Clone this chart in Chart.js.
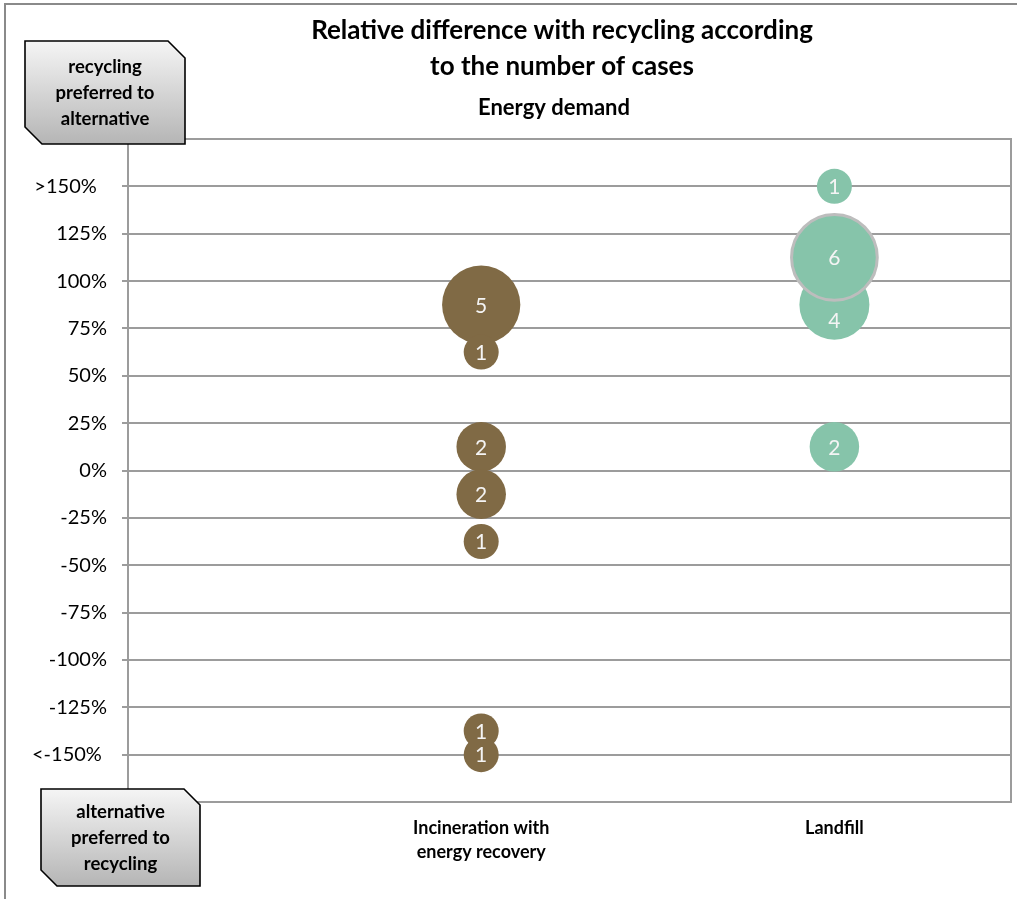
<!DOCTYPE html>
<html>
<head>
<meta charset="utf-8">
<title>Relative difference with recycling – Energy demand</title>
<script src="https://cdn.jsdelivr.net/npm/chart.js@4.4.1/dist/chart.umd.min.js"></script>
<style>
  html, body { margin: 0; padding: 0; background: #ffffff; }
  canvas { display: block; }
</style>
</head>
<body>
<canvas id="chart" width="1017" height="899"></canvas>
<script>
// ---- data -------------------------------------------------------------
const categories = ['Incineration with energy recovery', 'Landfill'];
const categoryLabelLines = [['Incineration with', 'energy recovery'], ['Landfill']];

// relative difference bins (%) and the number of cases falling in each bin
const incinerationDiff  = [87.5, 62.5, 12.5, -12.5, -37.5, -137.5, -150];
const incinerationCases = [5, 1, 2, 2, 1, 1, 1];

const landfillDiff  = [150, 87.5, 112.5, 12.5];
const landfillCases = [1, 4, 6, 2];

const yTickValues = [-150, -125, -100, -75, -50, -25, 0, 25, 50, 75, 100, 125, 150];
const yTickLabels = ['<-150% ', '-125%', '-100%', '-75%', '-50%', '-25%', '0%',
                     '25%', '50%', '75%', '100%', '125%', '>150%  '];

const titleLines = ['Relative difference with recycling according', 'to the number of cases'];
const subtitleText = 'Energy demand';
const topNote = ['recycling', 'preferred to', 'alternative'];
const bottomNote = ['alternative', 'preferred to', 'recycling'];

// ---- style ------------------------------------------------------------
const FONT = 'Lato, "Open Sans", "DejaVu Sans", sans-serif';
const BROWN = '#806a45';
const GREEN = '#86c4aa';
const GRID = '#9c9c9c';
const UNIT_RADIUS = 17.5; // radius of a one-case bubble; area grows with the count

function toPoints(diffs, cases, xPos) {
  return diffs.map((y, i) => ({ x: xPos, y: y, r: UNIT_RADIUS * Math.sqrt(cases[i]), n: cases[i] }));
}

// frame around the plot area plus outer chart border
const framePlugin = {
  id: 'frame',
  beforeDatasetsDraw(chart) {
    const { ctx, chartArea: a } = chart;
    ctx.save();
    ctx.strokeStyle = GRID;
    ctx.lineWidth = 2;
    ctx.strokeRect(a.left, a.top, a.right - a.left, a.bottom - a.top);
    ctx.restore();
  },
  beforeDraw(chart) {
    const { ctx, width, height } = chart;
    ctx.save();
    ctx.strokeStyle = '#8a8a8a';
    ctx.lineWidth = 2;
    ctx.beginPath();
    ctx.moveTo(5, height);
    ctx.lineTo(5, 4);
    ctx.lineTo(width, 4);
    ctx.stroke();
    ctx.restore();
  }
};

// case counts written inside the bubbles
const countLabelPlugin = {
  id: 'countLabels',
  afterDatasetsDraw(chart) {
    const { ctx } = chart;
    ctx.save();
    ctx.font = '21px ' + FONT;
    ctx.fillStyle = '#f4f4f4';
    ctx.textAlign = 'center';
    ctx.textBaseline = 'middle';
    const halfText = 12;
    chart.data.datasets.forEach((ds, di) => {
      const els = chart.getDatasetMeta(di).data;
      els.forEach((el, i) => {
        const r = ds.data[i].r;
        let y = el.y;
        // if a bubble drawn later overlaps this count, move it into the visible part
        for (let j = i + 1; j < els.length; j++) {
          const o = els[j], or = ds.data[j].r;
          if (Math.abs(o.x - el.x) < 1 && Math.abs(o.y - el.y) < or + halfText && or > r) {
            y = o.y < el.y ? (o.y + or + el.y + r) / 2 : (o.y - or + el.y - r) / 2;
          }
        }
        ctx.fillText(String(ds.data[i].n), el.x, y + 1);
      });
    });
    ctx.restore();
  }
};

// titles and the two orientation notes beside the value axis
function notePath(ctx, x0, y0, x1, y1, cut) {
  ctx.beginPath();
  ctx.moveTo(x0, y0);
  ctx.lineTo(x1 - cut, y0);
  ctx.lineTo(x1, y0 + cut);
  ctx.lineTo(x1, y1);
  ctx.lineTo(x0 + cut, y1);
  ctx.lineTo(x0, y1 - cut);
  ctx.closePath();
}

function drawNote(ctx, box, lines) {
  const g = ctx.createLinearGradient(0, box.y0, 0, box.y1);
  g.addColorStop(0, '#f5f5f5');
  g.addColorStop(1, '#b5b5b5');
  notePath(ctx, box.x0, box.y0, box.x1, box.y1, box.cut);
  ctx.fillStyle = g;
  ctx.fill();
  ctx.strokeStyle = '#000000';
  ctx.lineWidth = 1.6;
  ctx.stroke();
  ctx.fillStyle = '#000000';
  ctx.font = 'bold 18.5px ' + FONT;
  ctx.textAlign = 'center';
  ctx.textBaseline = 'middle';
  const cx = (box.x0 + box.x1) / 2;
  lines.forEach((t, i) => ctx.fillText(t, cx, box.firstLine + i * 26));
}

const annotationPlugin = {
  id: 'annotations',
  afterDraw(chart) {
    const { ctx } = chart;
    ctx.save();
    ctx.fillStyle = '#000000';
    ctx.textAlign = 'center';
    ctx.textBaseline = 'middle';
    ctx.font = 'bold 26px ' + FONT;
    titleLines.forEach((t, i) => ctx.fillText(t, 562, 31 + i * 36));
    ctx.font = 'bold 22px ' + FONT;
    ctx.fillText(subtitleText, 554, 108);

    drawNote(ctx, { x0: 25, y0: 41, x1: 185, y1: 144, cut: 17, firstLine: 67 }, topNote);
    drawNote(ctx, { x0: 41, y0: 789, x1: 200, y1: 886, cut: 16, firstLine: 812 }, bottomNote);
    ctx.restore();
  }
};

new Chart(document.getElementById('chart'), {
  type: 'bubble',
  data: {
    datasets: [
      {
        label: categories[0],
        data: toPoints(incinerationDiff, incinerationCases, 1),
        backgroundColor: BROWN,
        borderWidth: 0,
        hoverBorderWidth: 0
      },
      {
        label: categories[1],
        data: toPoints(landfillDiff, landfillCases, 2),
        backgroundColor: GREEN,
        borderColor: '#bdbdbd',
        // the most frequent bin is outlined
        borderWidth: (ctx) => (ctx.raw && ctx.raw.n === Math.max(...landfillCases) ? 3 : 0)
      }
    ]
  },
  options: {
    responsive: false,
    animation: false,
    events: [],
    clip: false,
    layout: { autoPadding: false, padding: { top: 139, right: 6, left: 0, bottom: 0 } },
    plugins: {
      legend: { display: false },
      title: { display: false },
      tooltip: { enabled: false }
    },
    scales: {
      x: {
        type: 'linear',
        min: 0,
        max: 2.5,
        afterBuildTicks: (scale) => { scale.ticks = categoryLabelLines.map((_, i) => ({ value: i + 1 })); },
        afterFit: (scale) => {
          scale.height = 97;
          scale.paddingLeft = 0;
          scale.paddingRight = 0;
        },
        grid: { display: false, drawTicks: false },
        border: { display: false },
        ticks: {
          autoSkip: false,
          maxRotation: 0,
          padding: 14,
          color: '#000000',
          font: { family: FONT, size: 18, weight: 'bold', lineHeight: 1.35 },
          callback: (v) => categoryLabelLines[Math.round(v) - 1] || ''
        }
      },
      y: {
        type: 'linear',
        min: -175,
        max: 175,
        afterBuildTicks: (scale) => {
          scale.ticks = [-175, ...yTickValues, 175].map((v) => ({ value: v }));
        },
        afterFit: (scale) => { scale.width = 128; },
        grid: { color: GRID, lineWidth: 2, tickLength: 6, drawTicks: true },
        border: { display: false },
        ticks: {
          autoSkip: false,
          padding: 15,
          color: '#000000',
          font: { family: FONT, size: 20 },
          callback: (v) => {
            const k = yTickValues.indexOf(v);
            return k >= 0 ? yTickLabels[k] : '';
          }
        }
      }
    }
  },
  plugins: [framePlugin, countLabelPlugin, annotationPlugin]
});
</script>
</body>
</html>
